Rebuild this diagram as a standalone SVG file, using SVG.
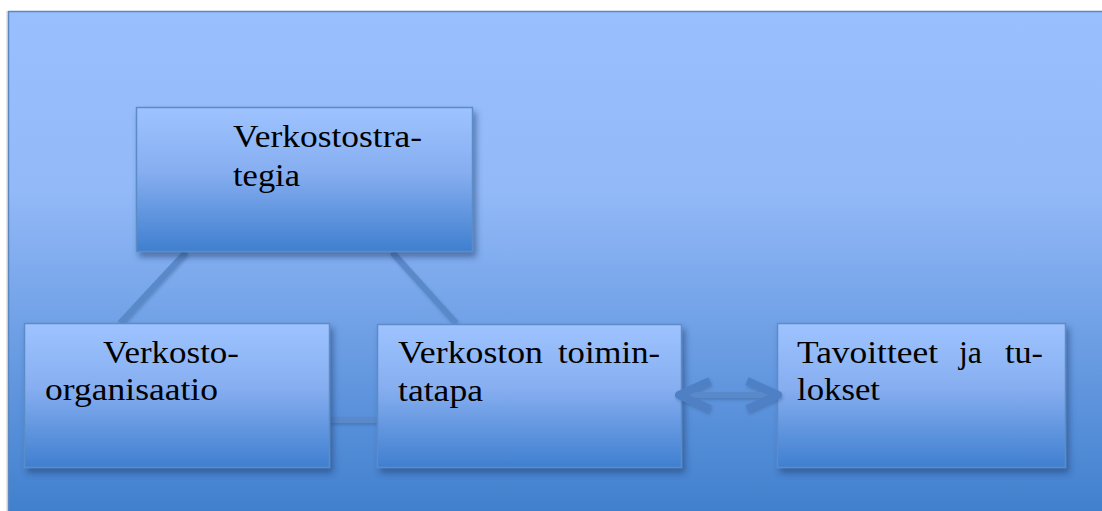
<svg xmlns="http://www.w3.org/2000/svg" width="1102" height="511" viewBox="0 0 1102 511">
<defs>
<linearGradient id="bg" x1="0" y1="0" x2="0" y2="1">
<stop offset="0" stop-color="#9ABFFF"/>
<stop offset="0.35" stop-color="#93B9F8"/>
<stop offset="1" stop-color="#3E7ECC"/>
</linearGradient>
<linearGradient id="box" x1="0" y1="0" x2="0" y2="1">
<stop offset="0" stop-color="#9EC3FF"/>
<stop offset="0.45" stop-color="#86AEF0"/>
<stop offset="1" stop-color="#3F7FCF"/>
</linearGradient>
<filter id="sh" x="-10%" y="-10%" width="125%" height="130%">
<feDropShadow dx="3" dy="5" stdDeviation="3" flood-color="#1F3F6F" flood-opacity="0.55"/>
</filter>
<filter id="lsh" filterUnits="userSpaceOnUse" x="0" y="0" width="1102" height="511">
<feDropShadow dx="1" dy="2" stdDeviation="1.5" flood-color="#2A4F80" flood-opacity="0.35"/>
</filter>
<marker id="chev" viewBox="0 0 40 40" refX="34" refY="20" markerWidth="40" markerHeight="40" markerUnits="userSpaceOnUse" orient="auto-start-reverse">
<path d="M3 6 L34 20 L3 34" fill="none" stroke="#4F80C6" stroke-width="8" stroke-linejoin="round"/>
</marker>
</defs>
<style>
.box{fill:url(#box);stroke:#5C8CC8;stroke-width:1.5;filter:url(#sh)}
.lbl{font-size:32px;fill:#000}
.con{stroke:#5A89C9;stroke-width:6;fill:none;filter:url(#lsh)}
</style>
<rect x="6" y="11" width="1110" height="510" fill="#E6E6E6"/>
<rect x="8.5" y="11.5" width="1110" height="510" fill="url(#bg)" stroke="#5A86C2" stroke-width="1.5"/>
<g id="links-back">
<line class="con" x1="186" y1="252" x2="120" y2="323"/>
<line class="con" x1="392" y1="252" x2="456" y2="323"/>
<line class="con" x1="329" y1="420" x2="377" y2="420"/>
</g>
<g font-family="'Liberation Serif', 'DejaVu Serif', serif">
<g id="strategia">
<rect class="box" x="136.5" y="107.5" width="336" height="144"/>
<text class="lbl" x="233" y="147" textLength="189" lengthAdjust="spacingAndGlyphs">Verkostostra-</text>
<text class="lbl" x="233" y="186" textLength="67" lengthAdjust="spacingAndGlyphs">tegia</text>
</g>
<g id="organisaatio">
<rect class="box" x="24.5" y="323.5" width="305" height="144"/>
<text class="lbl" x="103" y="363" textLength="136" lengthAdjust="spacingAndGlyphs">Verkosto-</text>
<text class="lbl" x="45" y="400" textLength="173" lengthAdjust="spacingAndGlyphs">organisaatio</text>
</g>
<g id="toimintatapa">
<rect class="box" x="377.5" y="324.5" width="304" height="143"/>
<text class="lbl" x="398" y="363" textLength="145" lengthAdjust="spacingAndGlyphs">Verkoston</text>
<text class="lbl" x="558" y="363" textLength="102" lengthAdjust="spacingAndGlyphs">toimin-</text>
<text class="lbl" x="398" y="401" textLength="85" lengthAdjust="spacingAndGlyphs">tatapa</text>
</g>
<g id="tavoitteet">
<rect class="box" x="777.5" y="323.5" width="288" height="144"/>
<text class="lbl" x="797" y="363" textLength="141" lengthAdjust="spacingAndGlyphs">Tavoitteet</text>
<text class="lbl" x="959" y="363" textLength="23" lengthAdjust="spacingAndGlyphs">ja</text>
<text class="lbl" x="1005" y="363" textLength="38" lengthAdjust="spacingAndGlyphs">tu-</text>
<text class="lbl" x="797" y="400" textLength="83" lengthAdjust="spacingAndGlyphs">lokset</text>
</g>
</g>
<g id="connectors">
<line class="con" x1="679" y1="395" x2="778" y2="395" stroke="#4F80C6" stroke-width="7" marker-start="url(#chev)" marker-end="url(#chev)"/>
</g>
</svg>
